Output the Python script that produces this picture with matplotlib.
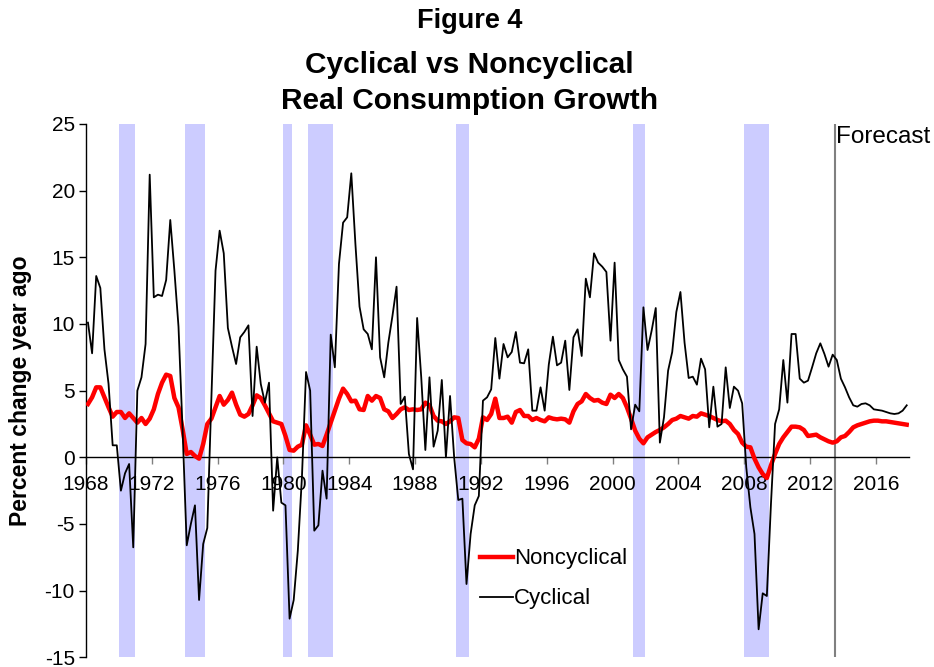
import numpy as np
from matplotlib import pyplot as plt

plt.rcParams['font.family'] = ['Liberation Sans', 'DejaVu Sans']
plt.rcParams['axes.unicode_minus'] = False

# quarterly data, 1968Q1 - 2017Q4 (percent change year ago)
start_year = 1968

cyclical = [
    10.1, 7.8, 13.6, 12.7,    # 1968
    8.1, 5.5, 0.9, 0.9,       # 1969
    -2.5, -1.2, -0.5, -6.75,  # 1970
    5.0, 6.0, 8.5, 21.2,      # 1971
    12.0, 12.2, 12.1, 13.3,   # 1972
    17.8, 14.0, 9.8, 2.0,     # 1973
    -6.6, -5.0, -3.6, -10.7,  # 1974
    -6.5, -5.3, 4.5, 14.0,    # 1975
    17.0, 15.3, 9.7, 8.3,     # 1976
    7.0, 9.0, 9.4, 9.9,       # 1977
    3.1, 8.3, 5.5, 4.1,       # 1978
    5.6, -4.0, 0.0, -3.4,     # 1979
    -3.6, -12.1, -10.7, -7.0, # 1980
    -1.5, 6.4, 5.0, -5.5,     # 1981
    -5.1, -1.0, -3.1, 9.2,    # 1982
    6.75, 14.5, 17.6, 18.0,   # 1983
    21.3, 16.0, 11.3, 9.6,    # 1984
    9.25, 8.1, 15.0, 7.5,     # 1985
    6.0, 8.6, 10.6, 12.8,     # 1986
    4.0, 4.55, 0.25, -0.9,    # 1987
    10.45, 6.0, 0.55, 6.0,    # 1988
    0.8, 2.0, 5.8, 0.0,       # 1989
    4.6, 0.0, -3.2, -3.1,     # 1990
    -9.5, -5.75, -3.6, -2.9,  # 1991
    4.25, 4.5, 5.1, 8.95,     # 1992
    5.9, 8.5, 7.5, 7.9,       # 1993
    9.4, 7.1, 7.05, 8.1,      # 1994
    3.5, 3.5, 5.25, 3.5,      # 1995
    6.95, 9.05, 6.9, 7.1,     # 1996
    8.75, 5.05, 9.0, 9.6,     # 1997
    7.6, 13.4, 12.0, 15.3,    # 1998
    14.6, 14.3, 13.9, 8.75,   # 1999
    14.6, 7.3, 6.6, 6.05,     # 2000
    2.1, 3.95, 3.45, 11.25,   # 2001
    8.05, 9.5, 11.2, 1.1,     # 2002
    3.0, 6.5, 7.9, 10.9,      # 2003
    12.4, 8.6, 5.95, 6.05,    # 2004
    5.45, 7.4, 6.6, 2.25,     # 2005
    5.3, 2.3, 2.5, 6.75,      # 2006
    3.7, 5.3, 5.0, 4.05,      # 2007
    -0.75, -3.75, -5.75, -12.9,  # 2008
    -10.2, -10.4, -3.5, 2.5,  # 2009
    3.6, 7.3, 4.1, 9.25,      # 2010
    9.25, 5.9, 5.6, 5.75,     # 2011
    6.75, 7.8, 8.55, 7.75,    # 2012
    6.8, 7.7, 7.3, 5.9,       # 2013
    5.25, 4.5, 3.9, 3.8,      # 2014
    4.0, 4.05, 3.9, 3.6,      # 2015
    3.55, 3.5, 3.4, 3.3,      # 2016
    3.25, 3.3, 3.5, 3.9,      # 2017
]

noncyclical = [
    4.0, 4.5, 5.25, 5.25,     # 1968
    4.5, 3.75, 3.05, 3.4,     # 1969
    3.4, 2.95, 3.3, 2.95,     # 1970
    2.6, 2.95, 2.5, 2.9,      # 1971
    3.6, 4.75, 5.6, 6.2,      # 1972
    6.1, 4.45, 3.75, 2.1,     # 1973
    0.25, 0.4, 0.1, -0.1,     # 1974
    1.0, 2.5, 2.9, 3.75,      # 1975
    4.6, 3.95, 4.3, 4.85,     # 1976
    3.95, 3.2, 3.05, 3.25,    # 1977
    3.9, 4.65, 4.45, 3.9,     # 1978
    3.3, 2.7, 2.6, 2.5,       # 1979
    1.6, 0.55, 0.5, 0.8,      # 1980
    0.95, 2.4, 1.7, 0.95,     # 1981
    1.0, 0.85, 1.7, 2.6,      # 1982
    3.5, 4.4, 5.15, 4.75,     # 1983
    4.2, 4.25, 3.6, 3.55,     # 1984
    4.6, 4.25, 4.6, 4.45,     # 1985
    3.6, 3.45, 2.95, 3.25,    # 1986
    3.6, 3.75, 3.55, 3.6,     # 1987
    3.55, 3.6, 4.1, 3.9,      # 1988
    3.1, 2.75, 2.7, 2.5,      # 1989
    2.7, 3.0, 2.95, 1.3,      # 1990
    1.05, 1.0, 0.75, 1.4,     # 1991
    3.0, 2.8, 3.25, 4.4,      # 1992
    2.95, 2.95, 3.05, 2.6,    # 1993
    3.4, 3.55, 3.1, 3.1,      # 1994
    2.8, 2.95, 2.8, 2.7,      # 1995
    3.0, 2.9, 2.85, 2.9,      # 1996
    2.85, 2.6, 3.45, 4.0,     # 1997
    4.2, 4.75, 4.45, 4.25,    # 1998
    4.3, 4.1, 4.0, 4.7,       # 1999
    4.45, 4.75, 4.45, 3.75,   # 2000
    2.9, 2.0, 1.4, 1.05,      # 2001
    1.5, 1.7, 1.9, 2.05,      # 2002
    2.25, 2.5, 2.8, 2.9,      # 2003
    3.1, 3.0, 2.9, 3.1,       # 2004
    3.05, 3.3, 3.2, 3.1,      # 2005
    2.95, 2.8, 2.7, 2.75,     # 2006
    2.5, 2.05, 1.75, 1.1,     # 2007
    0.8, 0.75, -0.1, -0.75,   # 2008
    -1.25, -1.55, -0.6, 0.25, # 2009
    1.0, 1.5, 1.9, 2.3,       # 2010
    2.3, 2.25, 2.05, 1.6,     # 2011
    1.65, 1.7, 1.5, 1.35,     # 2012
    1.2, 1.1, 1.2, 1.5,       # 2013
    1.6, 1.9, 2.25, 2.4,      # 2014
    2.5, 2.6, 2.7, 2.75,      # 2015
    2.75, 2.7, 2.7, 2.65,     # 2016
    2.6, 2.55, 2.5, 2.45,     # 2017
]

# NBER recessions (start, end) in years
recession_starts = [1970.0, 1974.0, 1980.0, 1981.5, 1990.5, 2001.25, 2008.0]
recession_ends = [1971.0, 1975.25, 1980.5, 1983.0, 1991.25, 2002.0, 2009.5]

forecast_start = 2013.5
year_ticks = list(range(1968, 2017, 4))
y_ticks = [25, 20, 15, 10, 5, 0, -5, -10, -15]


def MakeGraph():
    # x = middle of each quarter
    x = start_year + (np.arange(len(cyclical)) + 0.5) / 4.0

    fig = plt.figure(figsize=(9.34, 6.67), dpi=100)
    ax = fig.add_axes([0.092, 0.0145, 0.881, 0.7996])

    # recession shading
    for s, e in zip(recession_starts, recession_ends):
        ax.axvspan(s, e, color='#CCCCFF', lw=0, zorder=0)

    # forecast divider
    ax.axvline(forecast_start, color='#808080', lw=1.5, zorder=1)
    ax.text(forecast_start + 0.1, 24.85, 'Forecast', fontsize=17.5,
            ha='left', va='top', zorder=5)

    ax.plot(x, noncyclical, color='#FF0000', lw=3.2, label='Noncyclical', zorder=3)
    ax.plot(x, cyclical, color='black', lw=1.3, label='Cyclical', zorder=4)

    ax.set_xlim(1968, 2018)
    ax.set_ylim(-15, 25)

    # Excel-like axes: x axis at zero, only left spine
    ax.spines['top'].set_visible(False)
    ax.spines['right'].set_visible(False)
    ax.spines['bottom'].set_position(('data', 0))
    ax.spines['bottom'].set_linewidth(1.0)
    ax.spines['left'].set_linewidth(1.0)

    ax.set_xticks(year_ticks)
    ax.set_xticklabels([str(t) for t in year_ticks])
    ax.set_yticks(y_ticks)
    ax.tick_params(axis='both', labelsize=15, length=5, width=1.0, direction='out')
    ax.tick_params(axis='x', pad=8, color='#808080')
    ax.tick_params(axis='y', pad=3)

    ax.set_ylabel('Percent change year ago', fontsize=16.5, fontweight='bold', labelpad=9)

    ax.legend(loc='lower left', bbox_to_anchor=(0.455, 0.0525), frameon=False,
              fontsize=16, handlelength=1.45, handletextpad=0.05, labelspacing=0.85)

    fig.text(0.503, 0.968, 'Figure 4', fontsize=19.5, fontweight='bold', ha='center', va='center')
    fig.text(0.503, 0.902, 'Cyclical vs Noncyclical', fontsize=21.5, fontweight='bold', ha='center', va='center')
    fig.text(0.503, 0.849, 'Real Consumption Growth', fontsize=21.5, fontweight='bold', ha='center', va='center')

    fig.savefig('out.png', dpi=100)


if __name__ == '__main__':
    MakeGraph()
